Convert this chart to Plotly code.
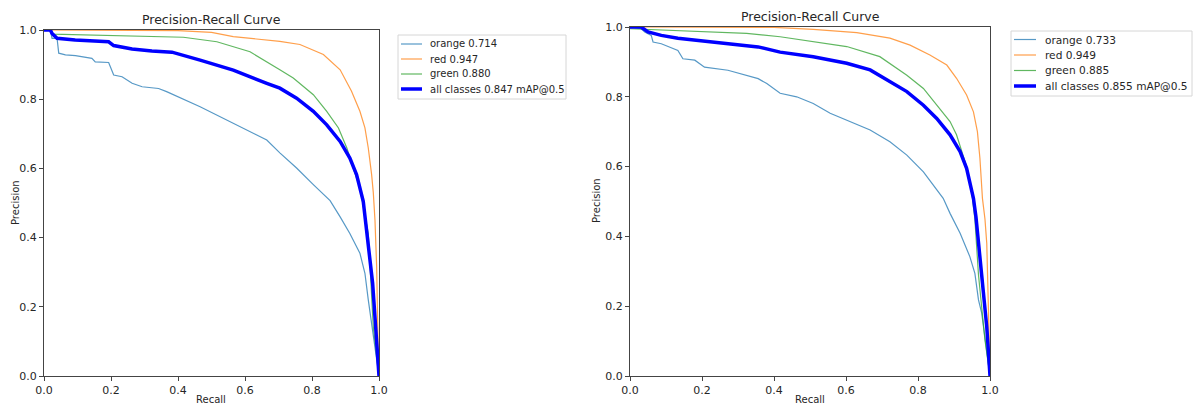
import plotly.graph_objects as go

# ---------------- Left chart data ----------------
L_orange_r = [0.0, 0.019, 0.024, 0.039, 0.044, 0.064, 0.094, 0.143, 0.153, 0.193, 0.208, 0.233, 0.263, 0.293, 0.342, 0.366, 0.466, 0.565, 0.665, 0.704, 0.754, 0.804, 0.854, 0.884, 0.913, 0.943, 0.958, 0.968, 0.978, 1.0]
L_orange_p = [1.0, 1.0, 0.976, 0.976, 0.933, 0.928, 0.926, 0.918, 0.908, 0.906, 0.870, 0.865, 0.846, 0.836, 0.831, 0.822, 0.778, 0.730, 0.682, 0.645, 0.601, 0.553, 0.507, 0.460, 0.412, 0.355, 0.297, 0.220, 0.152, 0.0]

L_red_r = [0.0, 0.2, 0.4, 0.5, 0.565, 0.704, 0.764, 0.834, 0.884, 0.918, 0.943, 0.958, 0.968, 0.978, 0.983, 0.988, 0.993, 0.998, 1.0]
L_red_p = [1.0, 1.0, 0.998, 0.993, 0.981, 0.967, 0.958, 0.929, 0.885, 0.823, 0.765, 0.717, 0.659, 0.582, 0.53, 0.45, 0.316, 0.05, 0.0]

L_green_r = [0.0, 0.019, 0.025, 0.193, 0.382, 0.416, 0.516, 0.615, 0.704, 0.744, 0.804, 0.844, 0.879, 0.904, 0.923, 0.943, 0.968, 0.975, 0.983, 1.0]
L_green_p = [1.0, 1.0, 0.988, 0.985, 0.981, 0.979, 0.966, 0.937, 0.885, 0.861, 0.813, 0.765, 0.717, 0.659, 0.601, 0.543, 0.412, 0.268, 0.142, 0.0]

L_all_r = [0.0, 0.019, 0.024, 0.039, 0.093, 0.193, 0.208, 0.263, 0.322, 0.382, 0.466, 0.565, 0.665, 0.704, 0.754, 0.804, 0.844, 0.884, 0.913, 0.933, 0.953, 0.958, 0.968, 0.981, 0.990, 1.0]
L_all_p = [1.0, 1.0, 0.99, 0.976, 0.971, 0.966, 0.955, 0.945, 0.939, 0.936, 0.913, 0.884, 0.846, 0.832, 0.803, 0.765, 0.726, 0.678, 0.630, 0.582, 0.505, 0.460, 0.364, 0.268, 0.142, 0.0]

L_labels = ["orange 0.714", "red 0.947", "green 0.880", "all classes 0.847 mAP@0.5"]

# ---------------- Right chart data ----------------
R_orange_r = [0.0, 0.031, 0.041, 0.059, 0.064, 0.087, 0.133, 0.147, 0.180, 0.207, 0.272, 0.319, 0.356, 0.380, 0.417, 0.463, 0.509, 0.556, 0.620, 0.667, 0.722, 0.769, 0.815, 0.843, 0.870, 0.889, 0.917, 0.944, 0.958, 0.968, 0.977, 1.0]
R_orange_p = [1.0, 0.995, 0.986, 0.976, 0.957, 0.952, 0.933, 0.909, 0.905, 0.885, 0.876, 0.862, 0.852, 0.838, 0.810, 0.800, 0.781, 0.753, 0.724, 0.705, 0.671, 0.633, 0.585, 0.547, 0.509, 0.466, 0.409, 0.342, 0.294, 0.218, 0.180, 0.0]

R_red_r = [0.0, 0.2, 0.4, 0.509, 0.630, 0.722, 0.778, 0.833, 0.880, 0.907, 0.935, 0.954, 0.965, 0.972, 0.979, 0.986, 0.991, 0.995, 1.0]
R_red_p = [1.0, 1.0, 0.999, 0.993, 0.984, 0.968, 0.948, 0.920, 0.891, 0.853, 0.805, 0.757, 0.700, 0.624, 0.509, 0.45, 0.38, 0.218, 0.0]

R_green_r = [0.0, 0.139, 0.324, 0.417, 0.509, 0.602, 0.694, 0.722, 0.769, 0.815, 0.852, 0.889, 0.907, 0.921, 0.935, 0.950, 0.958, 0.968, 0.977, 0.986, 1.0]
R_green_p = [0.995, 0.989, 0.982, 0.972, 0.958, 0.944, 0.915, 0.896, 0.862, 0.824, 0.776, 0.729, 0.691, 0.643, 0.600, 0.520, 0.450, 0.290, 0.189, 0.103, 0.0]

R_all_r = [0.0, 0.031, 0.05, 0.087, 0.133, 0.180, 0.226, 0.272, 0.324, 0.356, 0.417, 0.509, 0.602, 0.667, 0.722, 0.769, 0.815, 0.852, 0.889, 0.917, 0.935, 0.954, 0.961, 0.970, 0.981, 0.991, 1.0]
R_all_p = [1.0, 1.0, 0.986, 0.976, 0.968, 0.962, 0.957, 0.952, 0.946, 0.943, 0.928, 0.915, 0.896, 0.877, 0.843, 0.815, 0.776, 0.738, 0.691, 0.643, 0.595, 0.509, 0.456, 0.361, 0.266, 0.141, 0.0]

R_labels = ["orange 0.733", "red 0.949", "green 0.885", "all classes 0.855 mAP@0.5"]

tick_vals = [0.0, 0.2, 0.4, 0.6, 0.8, 1.0]
tick_text = ["0.0", "0.2", "0.4", "0.6", "0.8", "1.0"]

C_ORANGE = "#1f77b4"
C_RED = "#ff7f0e"
C_GREEN = "#2ca02c"
C_ALL = "#0000ff"
COLORS = [C_ORANGE, C_RED, C_GREEN, C_ALL]
WIDTHS = [1.2, 1.2, 1.2, 3.5]
OPAC = [0.75, 0.75, 0.75, 1.0]

FONT = "DejaVu Sans"
TXT = "#262626"
W, H = 1194, 405

fig = go.Figure()

def add_set(sets, labels, xa, ya):
    for (r, p), lab, c, w, o in zip(sets, labels, COLORS, WIDTHS, OPAC):
        fig.add_trace(go.Scatter(x=r, y=p, mode="lines", name=lab,
                                 line=dict(color=c, width=w), opacity=o,
                                 xaxis=xa, yaxis=ya, showlegend=False))

add_set([(L_orange_r, L_orange_p), (L_red_r, L_red_p), (L_green_r, L_green_p), (L_all_r, L_all_p)],
        L_labels, "x", "y")
add_set([(R_orange_r, R_orange_p), (R_red_r, R_red_p), (R_green_r, R_green_p), (R_all_r, R_all_p)],
        R_labels, "x2", "y2")

def px_x(v):
    return v / W

def px_y(v):
    return 1 - v / H

axis_common = dict(range=[0, 1], tickvals=tick_vals, ticktext=tick_text,
                   showline=True, linecolor="#444", linewidth=1, mirror=True,
                   ticks="outside", ticklen=4, tickcolor="#444",
                   showgrid=False, zeroline=False, automargin=False,
                   tickfont=dict(family=FONT, size=11, color=TXT))

fig.update_layout(
    width=W, height=H, margin=dict(l=0, r=0, t=0, b=0),
    paper_bgcolor="white", plot_bgcolor="white",
    font=dict(family=FONT, size=11, color=TXT),
    xaxis=dict(domain=[px_x(44), px_x(379)], anchor="y", **axis_common),
    yaxis=dict(domain=[px_y(376), px_y(30)], anchor="x", **axis_common),
    xaxis2=dict(domain=[px_x(630), px_x(990)], anchor="y2", **axis_common),
    yaxis2=dict(domain=[px_y(376), px_y(27)], anchor="x2", **axis_common),
    showlegend=False,
)

# ---- legend boxes (drawn as layout shapes + text) ----
def add_legend(labels, box, line_x0, line_x1, text_x, rows, fsize):
    x0, y0, x1, y1 = box
    fig.add_shape(type="rect", xref="paper", yref="paper",
                  x0=px_x(x0), x1=px_x(x1), y0=px_y(y1), y1=px_y(y0),
                  line=dict(color="#d6d6d6", width=1), fillcolor="white", layer="above")
    for lab, c, w, o, ry in zip(labels, COLORS, WIDTHS, OPAC, rows):
        fig.add_shape(type="line", xref="paper", yref="paper",
                      x0=px_x(line_x0), x1=px_x(line_x1), y0=px_y(ry), y1=px_y(ry),
                      line=dict(color=c, width=w), opacity=o, layer="above")
        fig.add_annotation(text=lab, x=px_x(text_x), y=px_y(ry), xref="paper", yref="paper",
                           showarrow=False, xanchor="left", yanchor="middle",
                           font=dict(family=FONT, size=fsize, color=TXT))

add_legend(L_labels, (398, 35, 566, 99), 401, 422, 428, [44, 59, 74, 89], 10)
add_legend(R_labels, (1011, 31, 1192, 96), 1014, 1036, 1043, [39.5, 55, 70.5, 86], 10.6)

anns = [
    dict(text="Precision-Recall Curve", x=px_x(211), y=px_y(19), size=12.5),
    dict(text="Precision-Recall Curve", x=px_x(810), y=px_y(16), size=12.5),
    dict(text="Recall", x=px_x(211), y=px_y(399), size=10),
    dict(text="Recall", x=px_x(810), y=px_y(399), size=10),
]
for a in anns:
    fig.add_annotation(text=a["text"], x=a["x"], y=a["y"], xref="paper", yref="paper",
                       showarrow=False, xanchor="center", yanchor="middle",
                       font=dict(family=FONT, size=a["size"], color=TXT))
for xp, yp in [(15, 203), (597, 201)]:
    fig.add_annotation(text="Precision", x=px_x(xp), y=px_y(yp), xref="paper", yref="paper",
                       showarrow=False, xanchor="center", yanchor="middle", textangle=-90,
                       font=dict(family=FONT, size=10, color=TXT))

fig.write_html("out.html")
